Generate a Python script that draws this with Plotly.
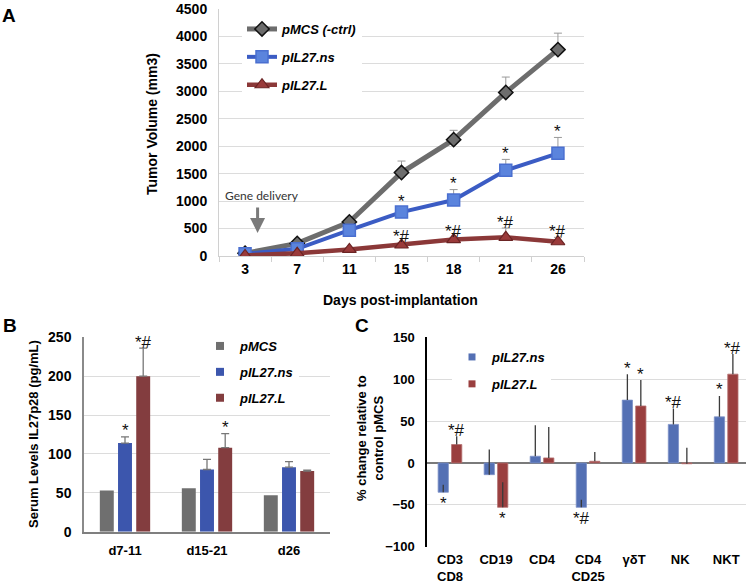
import plotly.graph_objects as go

# ---------------- Panel A: tumor volume ----------------
days = ["3", "7", "11", "15", "18", "21", "26"]
vol_pmcs = [50, 230, 620, 1520, 2120, 2980, 3760]
vol_pmcs_err = [20, 40, 70, 210, 170, 280, 300]
vol_ns = [40, 130, 470, 800, 1020, 1560, 1870]
vol_ns_err = [10, 30, 50, 80, 190, 200, 290]
vol_L = [10, 50, 120, 200, 300, 340, 260]
vol_L_err = [10, 20, 30, 40, 40, 170, 80]
sig_ns_A = ["", "", "", "*", "*", "*", "*"]
sig_L_A = ["", "", "", "*#", "*#", "*#", "*#"]

# ---------------- Panel B: serum IL27p28 ----------------
periods = ["d7-11", "d15-21", "d26"]
serum_pmcs = [53, 56, 47]
serum_ns = [114, 80, 83]
serum_ns_err = [8, 13, 7]
serum_L = [200, 108, 78]
serum_L_err = [36, 18, 1]
sig_ns_B = ["*", "", ""]
sig_L_B = ["*#", "*", ""]

# ---------------- Panel C: % change vs control ----------------
cells = ["CD3<br>CD8", "CD19", "CD4", "CD4<br>CD25", "γδT", "NK", "NKT"]
chg_ns = [-35, -14, 8, -53, 75, 46, 55]
chg_ns_err = [9, 30, 37, 9, 31, 19, 25]
chg_L = [22, -53, 6, 2, 68, -1, 106]
chg_L_err = [10, 30, 37, 11, 31, 19, 24]
sig_ns_C = ["*", "", "", "*#", "*", "*#", "*"]
sig_L_C = ["*#", "*", "", "", "*", "", "*#"]

FONT = "Arial, 'Liberation Sans', sans-serif"
GRID = "#dcdcdc"

GRAY_A = "#6d6d6d"
BLUE_A = "#3b5cc4"
RED_A = "#8b3838"
GRAY_B = "#6f6f6f"
BLUE_B = "#3c56ad"
RED_B = "#833d3f"
BLUE_C = "#5470b4"
RED_C = "#9a3f3f"

fig = go.Figure()

def up_err(arr, color):
    return dict(type="data", array=arr, arrayminus=[0] * len(arr), symmetric=False,
                color=color, thickness=1, width=4)

fig.add_trace(go.Scatter(
    x=days, y=vol_pmcs, mode="lines+markers", name="pMCS (-ctrl)",
    line=dict(color=GRAY_A, width=5),
    marker=dict(symbol="diamond", size=11, color=GRAY_A, line=dict(color="#111111", width=1.5)),
    error_y=up_err(vol_pmcs_err, "#9a9a9a"),
    xaxis="x", yaxis="y", legend="legend", legendgroup="a1"))
fig.add_trace(go.Scatter(
    x=days, y=vol_ns, mode="lines+markers", name="pIL27.ns",
    line=dict(color=BLUE_A, width=4),
    marker=dict(symbol="square", size=12, color="#5b84dd", line=dict(color="#4a6fd0", width=1.5)),
    error_y=up_err(vol_ns_err, "#9a9a9a"),
    xaxis="x", yaxis="y", legend="legend", legendgroup="a2"))
fig.add_trace(go.Scatter(
    x=days, y=vol_L, mode="lines+markers", name="pIL27.L",
    line=dict(color=RED_A, width=4.5),
    marker=dict(symbol="triangle-up", size=12, color="#9a3a3a", line=dict(color="#6b2424", width=1.2)),
    error_y=up_err(vol_L_err, "#9a9a9a"),
    xaxis="x", yaxis="y", legend="legend", legendgroup="a3"))

B_W = 0.17
B_OFF = [-0.222, 0.0, 0.222]
fig.add_trace(go.Bar(x=periods, y=serum_pmcs, width=B_W, offset=B_OFF[0] - B_W / 2,
                     marker=dict(color=GRAY_B, line=dict(width=0)), showlegend=False,
                     xaxis="x2", yaxis="y2"))
fig.add_trace(go.Bar(x=periods, y=serum_ns, width=B_W, offset=B_OFF[1] - B_W / 2,
                     marker=dict(color=BLUE_B, line=dict(width=0)), showlegend=False,
                     error_y=dict(type="data", array=serum_ns_err, arrayminus=[0] * 3, symmetric=False,
                                  color="#777777", thickness=1.3, width=4),
                     xaxis="x2", yaxis="y2"))
fig.add_trace(go.Bar(x=periods, y=serum_L, width=B_W, offset=B_OFF[2] - B_W / 2,
                     marker=dict(color=RED_B, line=dict(width=0)), showlegend=False,
                     error_y=dict(type="data", array=serum_L_err, arrayminus=[0] * 3, symmetric=False,
                                  color="#777777", thickness=1.3, width=4),
                     xaxis="x2", yaxis="y2"))
for name, col in [("pMCS", GRAY_B), ("pIL27.ns", BLUE_B), ("pIL27.L", RED_B)]:
    fig.add_trace(go.Scatter(x=[None], y=[None], mode="markers", name=name,
                             marker=dict(symbol="square", size=8, color=col),
                             xaxis="x2", yaxis="y2", legend="legend2", legendgroup="b" + name))

C_W = 0.223
C_OFF = [-0.147, 0.145]
fig.add_trace(go.Bar(x=cells, y=chg_ns, width=C_W, offset=C_OFF[0] - C_W / 2,
                     marker=dict(color=BLUE_C, line=dict(color="#7d92c8", width=0.8)), showlegend=False,
                     error_y=dict(type="data", array=chg_ns_err, arrayminus=[0] * 7, symmetric=False,
                                  color="#3a3a3a", thickness=1.3, width=0),
                     xaxis="x3", yaxis="y3"))
fig.add_trace(go.Bar(x=cells, y=chg_L, width=C_W, offset=C_OFF[1] - C_W / 2,
                     marker=dict(color=RED_C, line=dict(color="#b57272", width=0.8)), showlegend=False,
                     error_y=dict(type="data", array=chg_L_err, arrayminus=[0] * 7, symmetric=False,
                                  color="#3a3a3a", thickness=1.3, width=0),
                     xaxis="x3", yaxis="y3"))
for name, col in [("pIL27.ns", BLUE_C), ("pIL27.L", RED_C)]:
    fig.add_trace(go.Scatter(x=[None], y=[None], mode="markers", name=name,
                             marker=dict(symbol="square", size=7, color=col),
                             xaxis="x3", yaxis="y3", legend="legend3", legendgroup="c" + name))

ann = []
STAR = dict(size=17, color="#111111", family=FONT)

def star(xref, yref, x, y, txt, above=True):
    ann.append(dict(xref=xref, yref=yref, x=x, y=y, text=txt, showarrow=False,
                    font=STAR, yanchor="middle",
                    yshift=6 if above else -11))

for i, s in enumerate(sig_ns_A):
    if s:
        star("x", "y", i, vol_ns[i] + vol_ns_err[i], s)
for i, s in enumerate(sig_L_A):
    if s:
        star("x", "y", i, vol_L[i] + vol_L_err[i], s)
for i, s in enumerate(sig_ns_B):
    if s:
        star("x2", "y2", i + B_OFF[1], serum_ns[i] + serum_ns_err[i], s)
for i, s in enumerate(sig_L_B):
    if s:
        star("x2", "y2", i + B_OFF[2], serum_L[i] + serum_L_err[i], s)
for vals, errs, sigs, off in [(chg_ns, chg_ns_err, sig_ns_C, C_OFF[0]), (chg_L, chg_L_err, sig_L_C, C_OFF[1])]:
    for i, s in enumerate(sigs):
        if s:
            if vals[i] < 0:
                star("x3", "y3", i + off, vals[i], s, above=False)
            else:
                star("x3", "y3", i + off, vals[i] + errs[i], s)

ann.append(dict(xref="x", yref="y", x=0.24, y=420, ax=0, ay=-27, text="",
                showarrow=True, arrowhead=2, arrowsize=1, arrowwidth=3, arrowcolor="#7a7a7a", standoff=0))
ann.append(dict(xref="paper", yref="paper", x=262 / 746, y=1 - 196 / 585, text="Gene delivery",
                showarrow=False, font=dict(family="Lato, 'Open Sans', sans-serif", size=12, color="#333333"),
                xanchor="center", yanchor="middle"))

TITLE = dict(family=FONT, size=14, color="#000000", weight="bold")
ann += [
    dict(xref="paper", yref="paper", x=152 / 746, y=1 - 124 / 585, text="Tumor Volume (mm3)",
         textangle=-90, showarrow=False, font=TITLE, xanchor="center", yanchor="middle"),
    dict(xref="paper", yref="paper", x=400 / 746, y=1 - 300 / 585, text="Days post-implantation",
         showarrow=False, font=TITLE, xanchor="center", yanchor="middle"),
    dict(xref="paper", yref="paper", x=33 / 746, y=1 - 434 / 585, text="Serum Levels IL27p28 (pg/mL)",
         textangle=-90, showarrow=False, font=dict(family=FONT, size=13, color="#000", weight="bold"),
         xanchor="center", yanchor="middle"),
    dict(xref="paper", yref="paper", x=370 / 746, y=1 - 438 / 585,
         text="% change relative to<br>control pMCS",
         textangle=-90, showarrow=False, font=dict(family=FONT, size=13, color="#000", weight="bold"),
         xanchor="center", yanchor="middle"),
]
LETTER = dict(family=FONT, size=19, color="#000", weight="bold")
for letter, px, py in [("A", 9, 15), ("B", 10, 325), ("C", 362, 325)]:
    ann.append(dict(xref="paper", yref="paper", x=px / 746, y=1 - py / 585, text=letter,
                    showarrow=False, font=LETTER, xanchor="center", yanchor="middle"))

TICK14 = dict(family=FONT, size=14, color="#000", weight="bold")
TICK13 = dict(family=FONT, size=13, color="#000", weight="bold")
LEGF = dict(family=FONT, size=13, color="#000", weight="bold", style="italic")

fig.update_layout(
    width=746, height=585,
    margin=dict(l=0, r=0, t=0, b=0, autoexpand=False),
    paper_bgcolor="white", plot_bgcolor="white",
    font=dict(family=FONT, color="#000"),
    barmode="overlay",
    annotations=ann,
    xaxis=dict(domain=[219 / 746, 584 / 746], type="category", range=[-0.5, 6.5],
               showline=True, linecolor="#d0d0d0", linewidth=1, ticks="outside", tickson="boundaries",
               ticklen=5, tickcolor="#d0d0d0", tickfont=TICK14, showgrid=False, anchor="y",
               automargin=False),
    yaxis=dict(domain=[1 - 256 / 585, 1 - 9 / 585], range=[0, 4500], dtick=500,
               showgrid=True, gridcolor=GRID, showline=True, linecolor="#d0d0d0", zeroline=False,
               tickfont=TICK14, ticklabelstandoff=8, anchor="x", automargin=False),
    xaxis2=dict(domain=[84 / 746, 330 / 746], type="category", range=[-0.5, 2.5],
                showline=True, linecolor="#7f7f7f", linewidth=2, ticks="", tickfont=TICK13,
                showgrid=False, anchor="y2", ticklabelstandoff=6, automargin=False),
    yaxis2=dict(domain=[1 - 531.7 / 585, 1 - 337.3 / 585], range=[0, 250], dtick=50,
                showgrid=True, gridcolor=GRID, showline=True, linecolor="#8a8a8a", linewidth=1.5,
                zeroline=False, tickfont=TICK14, ticklabelstandoff=8, anchor="x2", automargin=False),
    xaxis3=dict(domain=[427 / 746, 1.0], type="category", range=[-0.5, 6.43],
                showline=False, ticks="", tickfont=TICK13, showgrid=False, anchor="y3",
                ticklabelstandoff=3, automargin=False),
    yaxis3=dict(domain=[1 - 546.7 / 585, 1 - 337.3 / 585], range=[-100, 150], dtick=50,
                showgrid=True, gridcolor=GRID, showline=True, linecolor="#000000", linewidth=1.5,
                zeroline=True, zerolinecolor="#7a7a7a", zerolinewidth=2,
                tickfont=TICK13, ticklabelstandoff=8, anchor="x3", automargin=False),
    legend=dict(x=242 / 746, y=1 - 14 / 585, xanchor="left", yanchor="top", bgcolor="white",
                font=LEGF, tracegroupgap=8, borderwidth=0),
    legend2=dict(x=200 / 746, y=1 - 331 / 585, xanchor="left", yanchor="top", bgcolor="white",
                 font=LEGF, tracegroupgap=6, borderwidth=0),
    legend3=dict(x=452 / 746, y=1 - 342 / 585, xanchor="left", yanchor="top", bgcolor="white",
                 font=LEGF, tracegroupgap=7, borderwidth=0),
)

fig.write_html("out.html", config={"displayModeBar": False},
               post_script="document.body.style.margin='0';document.body.style.overflow='hidden';")
